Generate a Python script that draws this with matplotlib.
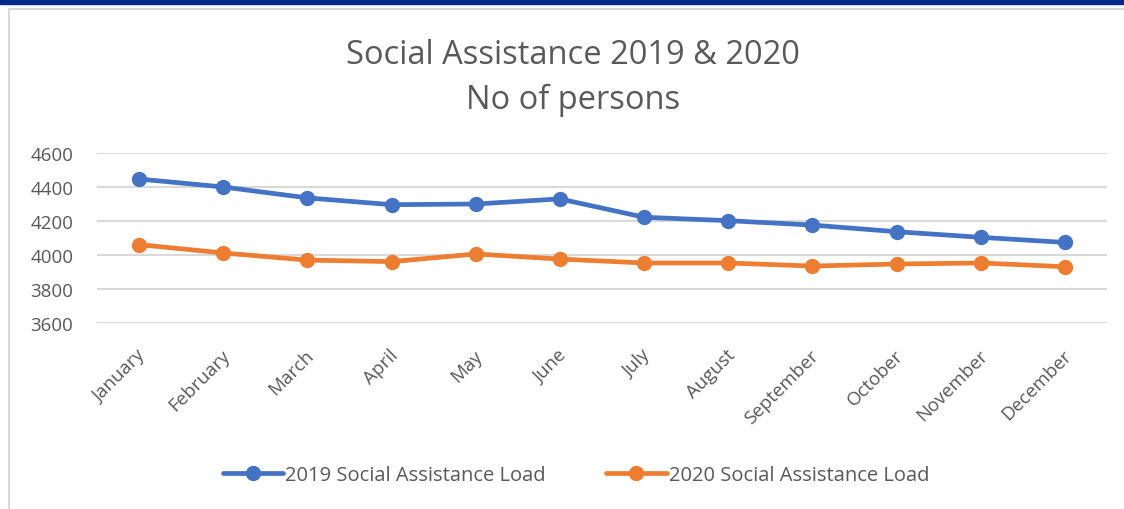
import matplotlib
matplotlib.use("Agg")
import matplotlib.pyplot as plt
from matplotlib.patches import Rectangle
from matplotlib.transforms import ScaledTranslation

plt.rcParams["font.family"] = ["Open Sans", "DejaVu Sans"]

BLUE = "#4472c4"
ORANGE = "#ed7d31"
TEXT = "#595959"
GRID = "#d9d9d9"

months = ["January", "February", "March", "April", "May", "June",
          "July", "August", "September", "October", "November", "December"]
load_2019 = [4447, 4400, 4336, 4296, 4300, 4330, 4222, 4202, 4176, 4137, 4104, 4074]
load_2020 = [4061, 4012, 3970, 3961, 4006, 3976, 3953, 3953, 3935, 3947, 3953, 3931]
y_ticks = [3600, 3800, 4000, 4200, 4400, 4600]

W, H = 1124, 510
fig = plt.figure(figsize=(W / 100, H / 100), dpi=100)

# blue band at the top and the chart frame
fig.patches.append(Rectangle((0, 1 - 5 / H), 1, 5 / H, transform=fig.transFigure,
                             color="#00288f", zorder=0))
fig.patches.append(Rectangle((9 / W, -0.1), 1.2, 1 - 10 / H + 0.1, transform=fig.transFigure,
                             facecolor="white", edgecolor=GRID, lw=1.5, zorder=0))

ax = fig.add_axes([97 / W, 1 - 324 / H, (1107 - 97) / W, (324 - 154) / H])
ax.set_zorder(2)
ax.patch.set_alpha(0)
x = list(range(len(months)))
ax.plot(x, load_2019, color=BLUE, lw=3.4, marker="o", ms=10, label="2019 Social Assistance Load",
        solid_capstyle="round", zorder=3)
ax.plot(x, load_2020, color=ORANGE, lw=3.4, marker="o", ms=10, label="2020 Social Assistance Load",
        solid_capstyle="round", zorder=3)

ax.set_xlim(-0.5, len(months) - 0.5)
ax.set_ylim(3600, 4600)
ax.set_yticks(y_ticks)
ax.set_yticklabels([str(v) for v in y_ticks], fontsize=13.5, color=TEXT)
ax.set_xticks(x)
ax.set_xticklabels(months, rotation=45, ha="right", va="center", rotation_mode="anchor",
                   fontsize=13.5, color=TEXT)
ax.tick_params(axis="both", length=0)
ax.tick_params(axis="x", pad=21)
ax.tick_params(axis="y", pad=17)
shift = ScaledTranslation(4 / 100, 0, fig.dpi_scale_trans)
for lbl in ax.get_xticklabels():
    lbl.set_transform(lbl.get_transform() + shift)
ax.grid(axis="y", color=GRID, lw=1.5)
for s in ax.spines.values():
    s.set_visible(False)

fig.text(573 / W, 1 - 55 / H, "Social Assistance 2019 & 2020", ha="center", va="center",
         fontsize=23.5, color=TEXT)
fig.text(573 / W, 1 - 100 / H, "No of persons", ha="center", va="center",
         fontsize=23.5, color=TEXT)

leg = fig.legend(loc="center", bbox_to_anchor=(576 / W, 1 - 476 / H), ncol=2, frameon=False,
                 fontsize=14.5, labelcolor=TEXT, handlelength=3.0, handletextpad=0.1,
                 columnspacing=3.0)

fig.savefig("out.png", dpi=100)
